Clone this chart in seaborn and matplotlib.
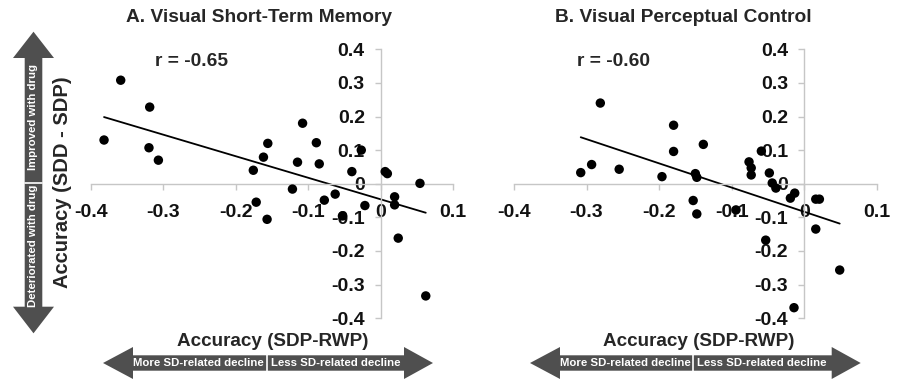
import matplotlib
matplotlib.use("Agg")
import matplotlib.pyplot as plt
from matplotlib import font_manager
from matplotlib.patches import Polygon
import numpy as np
import pandas as pd
import seaborn as sns

# ---------------- data ----------------
stm_x = [-0.382, -0.359, -0.319, -0.320, -0.307, -0.176, -0.162, -0.156, -0.172, -0.157,
         -0.122, -0.115, -0.108, -0.089, -0.085, -0.078, -0.063, -0.053, -0.040, -0.027,
         -0.022, 0.006, 0.009, 0.019, 0.019, 0.024, 0.054, 0.062]
stm_y = [0.130, 0.308, 0.228, 0.107, 0.070, 0.040, 0.079, 0.120, -0.055, -0.106,
         -0.016, 0.064, 0.180, 0.122, 0.059, -0.049, -0.031, -0.096, 0.036, 0.100,
         -0.065, 0.036, 0.030, -0.039, -0.063, -0.162, 0.001, -0.334]

vpc_x = [-0.308, -0.293, -0.281, -0.255, -0.196, -0.180, -0.180, -0.139, -0.150, -0.148,
         -0.153, -0.148, -0.094, -0.076, -0.073, -0.073, -0.059, -0.048, -0.044, -0.039,
         -0.019, -0.013, 0.016, 0.021, 0.016, -0.053, 0.049, -0.014]
vpc_y = [0.033, 0.057, 0.240, 0.043, 0.021, 0.174, 0.096, 0.117, 0.030, 0.019,
         -0.050, -0.090, -0.078, 0.065, 0.047, 0.026, 0.097, 0.032, 0.002, -0.013,
         -0.043, -0.028, -0.046, -0.046, -0.135, -0.168, -0.257, -0.369]

panel_titles = ["A. Visual Short-Term Memory", "B. Visual Perceptual Control"]
r_labels = ["r = -0.65", "r = -0.60"]
x_ticks = [-0.4, -0.3, -0.2, -0.1, 0, 0.1]
x_tick_labels = ["-0.4", "-0.3", "-0.2", "-0.1", "0", "0.1"]
y_ticks = [-0.4, -0.3, -0.2, -0.1, 0, 0.1, 0.2, 0.3, 0.4]
y_tick_labels = ["-0.4", "-0.3", "-0.2", "-0.1", "0", "0.1", "0.2", "0.3", "0.4"]
x_label = "Accuracy (SDP-RWP)"
y_label = "Accuracy (SDD - SDP)"
h_arrow_labels = ["More SD-related decline", "Less SD-related decline"]
v_arrow_labels = ["Improved with drug", "Deteriorated with drug"]

# ---------------- style ----------------
sns.set_theme(style="white")
avail = {f.name for f in font_manager.fontManager.ttflist}
main_font = "Liberation Sans" if "Liberation Sans" in avail else "DejaVu Sans"
narrow_font = "Liberation Sans Narrow" if "Liberation Sans Narrow" in avail else main_font
plt.rcParams["font.family"] = [main_font, "DejaVu Sans"]

SPINE = "#c6c6c6"
ARROW = "#4f4f4f"
W, H = 901, 380

fig = plt.figure(figsize=(9.01, 3.80), dpi=100)

# overlay in pixel coordinates for annotations
ov = fig.add_axes([0, 0, 1, 1], zorder=0)
ov.set_xlim(0, W)
ov.set_ylim(H, 0)
ov.axis("off")

def make_panel(rect, xs, ys):
    ax = fig.add_axes(rect, zorder=2)
    ax.patch.set_alpha(0)
    df = pd.DataFrame({"x": xs, "y": ys})
    sns.regplot(data=df, x="x", y="y", ax=ax, scatter=False, ci=None, truncate=True,
                line_kws=dict(color="black", lw=1.3))
    sns.scatterplot(data=df, x="x", y="y", ax=ax, color="black", s=46,
                    edgecolor="none", zorder=3, clip_on=False)
    ax.set_xlim(-0.4, 0.1)
    ax.set_ylim(-0.4, 0.4)
    ax.spines["left"].set_position(("data", 0))
    ax.spines["bottom"].set_position(("data", 0))
    for s in ["top", "right"]:
        ax.spines[s].set_visible(False)
    for s in ["left", "bottom"]:
        ax.spines[s].set_color(SPINE)
        ax.spines[s].set_linewidth(1.0)
    ax.set_xticks(x_ticks)
    ax.set_xticklabels(x_tick_labels)
    ax.set_yticks(y_ticks)
    ax.set_yticklabels(y_tick_labels)
    ax.tick_params(axis="x", direction="out", length=4.5, width=1.0, color=SPINE,
                   pad=10, labelsize=14, bottom=True)
    ax.tick_params(axis="y", direction="out", length=4.5, width=1.0, color=SPINE,
                   pad=7, labelsize=14, left=True)
    for lab in ax.get_xticklabels() + ax.get_yticklabels():
        lab.set_fontweight("bold")
        lab.set_color("#111111")
    ax.set_xlabel("")
    ax.set_ylabel("")
    return ax

ax1 = make_panel([91 / W, 1 - 318.1 / H, 362.3 / W, 268.8 / H], stm_x, stm_y)
ax2 = make_panel([514 / W, 1 - 318.1 / H, 362.7 / W, 268.8 / H], vpc_x, vpc_y)

# titles, r values, axis labels
ov.text(258.8, 17.5, panel_titles[0], ha="center", va="center", fontsize=13.8, fontweight="bold")
ov.text(683.8, 17.5, panel_titles[1], ha="center", va="center", fontsize=13.8, fontweight="bold")
ov.text(155, 61, r_labels[0], ha="left", va="center", fontsize=13.8, fontweight="bold")
ov.text(577, 62, r_labels[1], ha="left", va="center", fontsize=13.8, fontweight="bold")
ov.text(272.5, 342, x_label, ha="center", va="center", fontsize=13.6, fontweight="bold")
ov.text(699, 342, x_label, ha="center", va="center", fontsize=13.6, fontweight="bold")
ov.text(63, 182.5, y_label, ha="center", va="center", rotation=90, fontsize=14.5, fontweight="bold")

# horizontal double arrows
def h_arrow(x_tip_l, x_head_l, x_div, x_head_r, x_tip_r, yc, texts, tx):
    hh, sh = 16, 7.7
    pts = [(x_tip_l, yc), (x_head_l, yc - hh), (x_head_l, yc - sh), (x_head_r, yc - sh),
           (x_head_r, yc - hh), (x_tip_r, yc), (x_head_r, yc + hh), (x_head_r, yc + sh),
           (x_head_l, yc + sh), (x_head_l, yc + hh)]
    ov.add_patch(Polygon(pts, closed=True, fc=ARROW, ec="none"))
    ov.plot([x_div, x_div], [yc - sh, yc + sh], color="white", lw=1.2)
    for t, x in zip(texts, tx):
        ov.text(x, yc, t, ha="center", va="center", color="white", fontsize=8.2,
                fontweight="bold", family=[narrow_font, "DejaVu Sans"])

h_arrow(103, 133, 266.7, 404, 433, 363, h_arrow_labels, [198, 335.7])
h_arrow(530, 560, 693, 831.7, 860.7, 363, h_arrow_labels, [625, 762])

# vertical double arrow
xc = 33.5
hw, sw = 20.5, 8.8
pts = [(xc, 31.7), (xc + hw, 58), (xc + sw, 58), (xc + sw, 306.7), (xc + hw, 306.7),
       (xc, 333.3), (xc - hw, 306.7), (xc - sw, 306.7), (xc - sw, 58), (xc - hw, 58)]
ov.add_patch(Polygon(pts, closed=True, fc=ARROW, ec="none"))
ov.plot([xc - sw, xc + sw], [182.7, 182.7], color="white", lw=1.2)
ov.text(xc, 117.5, v_arrow_labels[0], ha="center", va="center", rotation=90, color="white",
        fontsize=8.2, fontweight="bold", family=[narrow_font, "DejaVu Sans"])
ov.text(xc, 246, v_arrow_labels[1], ha="center", va="center", rotation=90, color="white",
        fontsize=8.2, fontweight="bold", family=[narrow_font, "DejaVu Sans"])

fig.savefig("out.png", dpi=100)
